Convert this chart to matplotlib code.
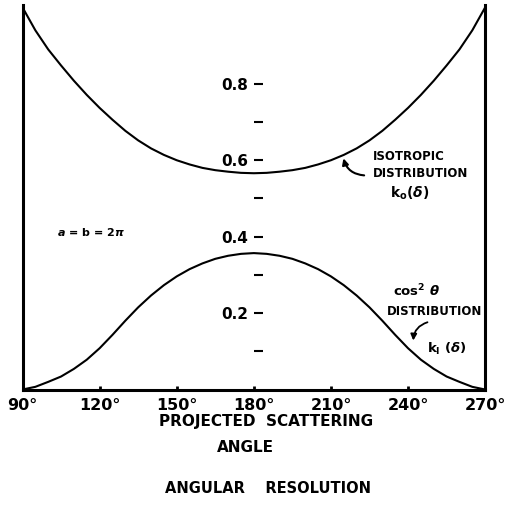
import matplotlib
matplotlib.use("Agg")
import matplotlib.pyplot as plt

# projected scattering angle (degrees)
angle = [90, 95, 100, 105, 110, 115, 120, 125, 130, 135, 140, 145, 150, 155, 160, 165, 170, 175, 180,
         185, 190, 195, 200, 205, 210, 215, 220, 225, 230, 235, 240, 245, 250, 255, 260, 265, 270]

# isotropic distribution k0(delta), left half, curve is symmetric about 180
k0_half = [1.0, 0.94, 0.89, 0.848, 0.808, 0.771, 0.737, 0.706, 0.677, 0.652, 0.631, 0.614,
           0.600, 0.589, 0.580, 0.574, 0.570, 0.567, 0.566]
k0 = k0_half + k0_half[-2::-1]

# cos^2 theta distribution k1(delta)
k1_half = [0.0, 0.007, 0.02, 0.034, 0.054, 0.078, 0.108, 0.143, 0.18, 0.215, 0.246, 0.273,
           0.296, 0.315, 0.33, 0.342, 0.350, 0.355, 0.357]
k1 = k1_half + k1_half[-2::-1]

xticks = [90, 120, 150, 180, 210, 240, 270]
xlabels = ["90°", "120°", "150°", "180°", "210°", "240°", "270°"]
yticks = [0.2, 0.4, 0.6, 0.8]
ylabels = ["0.2", "0.4", "0.6", "0.8"]
yminor = [0.1, 0.3, 0.5, 0.7]

plt.rcParams['font.family'] = ['DejaVu Sans']
plt.rcParams['font.weight'] = 'bold'

fig = plt.figure(figsize=(5.21, 5.17), dpi=100)
ax = fig.add_axes([0.0432, 0.2466, 0.888, 0.7428])

ax.plot(angle, k0, color='black', lw=1.5)
ax.plot(angle, k1, color='black', lw=1.5)

ax.set_xlim(90, 270)
ax.set_ylim(0, 1.005)

# frame: left, right, bottom only
ax.spines['top'].set_visible(False)
for s in ['left', 'right', 'bottom']:
    ax.spines[s].set_linewidth(2.2)

ax.set_xticks(xticks)
ax.set_xticklabels(xlabels, fontsize=11.5, fontweight='bold')
ax.tick_params(axis='x', direction='in', length=3, width=2, pad=6)
ax.tick_params(axis='y', left=False, labelleft=False)

# y scale drawn in the middle of the plot
sec = ax.secondary_yaxis(0.5)
for sp in sec.spines.values():
    sp.set_visible(False)
sec.yaxis.set_ticks_position('left')
sec.yaxis.set_label_position('left')
sec.set_yticks(yticks)
sec.set_yticklabels(ylabels, fontsize=11, fontweight='bold')
sec.set_yticks(yminor, minor=True)
sec.tick_params(axis='y', which='both', left=True, right=False, labelleft=True, labelright=False,
                direction='in', length=6.5, width=1.5, pad=4)

# axis titles
fig.text(0.511, 0.185, "PROJECTED  SCATTERING", ha='center', va='center',
         fontsize=11, fontweight='bold')
fig.text(0.471, 0.135, "ANGLE", ha='center', va='center', fontsize=11, fontweight='bold')
fig.text(0.514, 0.056, "ANGULAR    RESOLUTION", ha='center', va='center',
         fontsize=10.5, fontweight='bold')

# annotations
ax.text(226.4, 0.611, "ISOTROPIC", fontsize=8.5, fontweight='bold', va='center')
ax.text(226.4, 0.566, "DISTRIBUTION", fontsize=8.5, fontweight='bold', va='center')
ax.text(233.0, 0.514, r"k$_{\mathbf{o}}$($\delta$)", fontsize=10, fontweight='bold', va='center')
ax.annotate("", xy=(214.6, 0.612), xytext=(224.0, 0.560),
            arrowprops=dict(arrowstyle='-|>', color='black', lw=1.5,
                            connectionstyle='arc3,rad=-0.4', mutation_scale=9))

ax.text(234.2, 0.259, r"cos$^{\mathbf{2}}$ $\theta$", fontsize=9.5, fontweight='bold', va='center')
ax.text(231.9, 0.204, "DISTRIBUTION", fontsize=8.5, fontweight='bold', va='center')
ax.text(247.4, 0.105, r"k$_{\mathbf{I}}$ ($\delta$)", fontsize=9.5, fontweight='bold', va='center')
ax.annotate("", xy=(242.0, 0.121), xytext=(248.6, 0.178),
            arrowprops=dict(arrowstyle='-|>', color='black', lw=1.3,
                            connectionstyle='arc3,rad=0.4', mutation_scale=9))

ax.text(103.4, 0.413, r"$a$ = b = 2$\pi$", fontsize=8, fontweight='bold', va='center')

fig.savefig("out.png", dpi=100)
